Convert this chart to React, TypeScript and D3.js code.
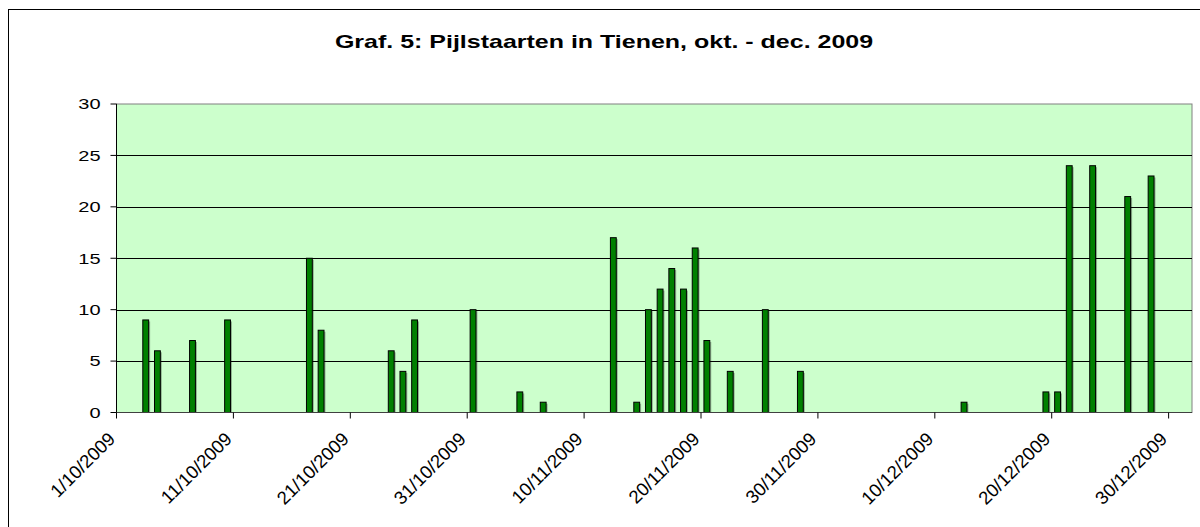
import * as d3 from "d3";

// Observation days (2009) and counts of Pintail
const obsDates = [
  "2009-10-03", "2009-10-04", "2009-10-07", "2009-10-10", "2009-10-17", "2009-10-18",
  "2009-10-24", "2009-10-25", "2009-10-26", "2009-10-31", "2009-11-04", "2009-11-06",
  "2009-11-12", "2009-11-14", "2009-11-15", "2009-11-16", "2009-11-17", "2009-11-18",
  "2009-11-19", "2009-11-20", "2009-11-22", "2009-11-25", "2009-11-28", "2009-12-12",
  "2009-12-19", "2009-12-20", "2009-12-21", "2009-12-23", "2009-12-26", "2009-12-28",
];
const counts = [
  9, 6, 7, 9, 15, 8,
  6, 4, 9, 10, 2, 1,
  17, 1, 10, 12, 14, 12,
  16, 7, 4, 10, 4, 1,
  2, 2, 24, 24, 21, 23,
];
const yTickValues = [0, 5, 10, 15, 20, 25, 30];
const tickDayOffsets = [0, 10, 20, 30, 40, 50, 60, 70, 80, 90];

const W = 1200;
const H = 527;
const plot = { left: 116.5, right: 1192, top: 104, bottom: 412.5 };
const FONT = "'Liberation Sans', Arial, sans-serif";
// the source picture is squashed vertically, so horizontal text is wider than tall
const SY = 0.75;

export default function App() {
  const start = new Date(Date.UTC(2009, 9, 1));
  const end = new Date(Date.UTC(2010, 0, 1));
  const x = d3.scaleUtc().domain([start, end]).range([plot.left, plot.right]);
  const y = d3.scaleLinear().domain([0, 30]).range([plot.bottom, plot.top]);
  const dayW = x(d3.utcDay.offset(start, 1)) - x(start);
  const barW = dayW * 0.5;
  const fmt = d3.utcFormat("%-d/%m/%Y");
  const ticks = tickDayOffsets.map((d) => d3.utcDay.offset(start, d));
  const data = obsDates.map((s, i) => ({ date: new Date(s + "T00:00:00Z"), v: counts[i] }));

  return (
    <svg
      width={W}
      height={H}
      style={{ position: "absolute", left: 0, top: 0, fontFamily: FONT }}
    >
      <rect x={0} y={0} width={W} height={H} fill="#fff" />
      {/* outer chart border (runs off the image right/bottom) */}
      <rect x={8.5} y={9.5} width={W} height={H} fill="none" stroke="#000" strokeWidth={1} />

      <text
        transform={`translate(604,47.7) scale(1,0.72)`}
        textAnchor="middle"
        fontSize={25}
        fontWeight={700}
        fill="#000"
      >
        Graf. 5: Pijlstaarten in Tienen, okt. - dec. 2009
      </text>

      {/* plot area */}
      <rect
        x={plot.left}
        y={plot.top}
        width={plot.right - plot.left}
        height={plot.bottom - plot.top}
        fill="#CCFFCC"
        stroke="#808080"
        strokeWidth={1}
      />

      {/* grid lines */}
      {yTickValues
        .filter((t) => t > 0 && t < 30)
        .map((t) => (
          <line
            key={t}
            x1={plot.left}
            x2={plot.right}
            y1={Math.round(y(t)) + 0.5}
            y2={Math.round(y(t)) + 0.5}
            stroke="#000"
            strokeWidth={1}
          />
        ))}

      {/* bars */}
      {data.map((d, i) => {
        const cx = x(d.date) + dayW / 2;
        const top = y(d.v);
        return (
          <g key={i}>
            <rect
              x={cx - barW / 2 + 1.5}
              y={top + 1.5}
              width={barW}
              height={plot.bottom - top - 1.5}
              fill="rgba(0,0,0,0.3)"
            />
            <rect
              x={cx - barW / 2}
              y={top}
              width={barW}
              height={plot.bottom - top}
              fill="#008000"
              stroke="#000"
              strokeWidth={1}
            />
          </g>
        );
      })}

      {/* axes */}
      <line x1={plot.left} x2={plot.left} y1={plot.top} y2={plot.bottom} stroke="#000" />
      <line x1={plot.left} x2={plot.right} y1={plot.bottom} y2={plot.bottom} stroke="#404040" strokeWidth={1.2} />

      {yTickValues.map((t) => (
        <g key={t}>
          <line x1={plot.left - 6} x2={plot.left} y1={y(t)} y2={y(t)} stroke="#000" />
          <text
            transform={`translate(100.5,${y(t)}) scale(1,${SY})`}
            dy="0.36em"
            textAnchor="end"
            fontSize={20}
            fill="#000"
          >
            {t}
          </text>
        </g>
      ))}

      {ticks.map((t, i) => {
        const tx = x(t);
        return (
          <g key={i}>
            <line x1={tx} x2={tx} y1={plot.bottom} y2={plot.bottom + 6} stroke="#000" />
            <text
              transform={`translate(${tx - 5},${plot.bottom + 23}) rotate(-45)`}
              textAnchor="end"
              dy="0.36em"
              fontSize={18.5}
              fill="#000"
            >
              {fmt(t)}
            </text>
          </g>
        );
      })}
    </svg>
  );
}
